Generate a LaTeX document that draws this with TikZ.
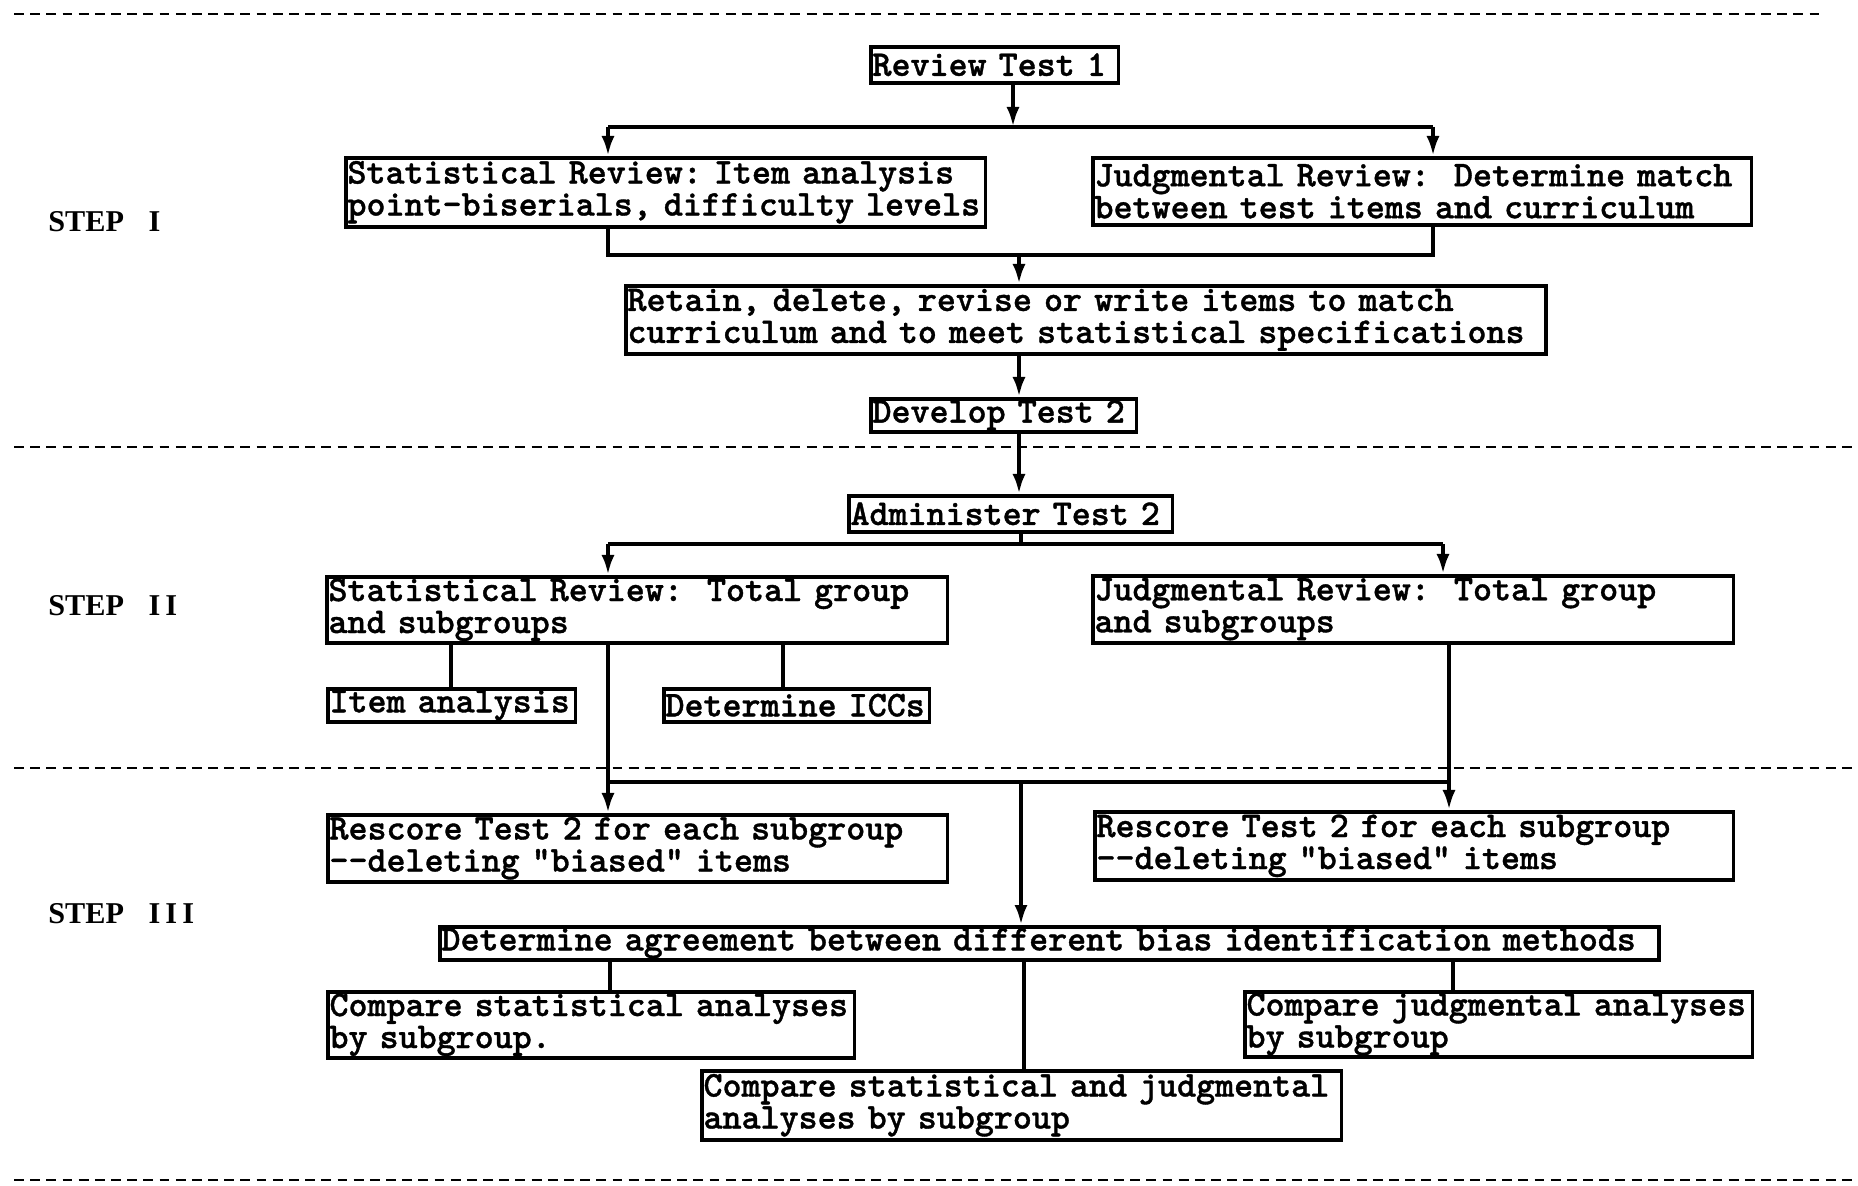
\documentclass[tikz,border=0pt]{standalone}
\usepackage{fontspec}
\usetikzlibrary{arrows.meta}
\newfontfamily\typer{lmmonolt10-bold}[Extension=.otf,FakeBold=1,Ligatures=TeXOff]
\newfontfamily\stamp{Liberation Serif}
\tikzset{
  >={Latex[length=2mm,width=1.3mm]},
  box/.style={draw,line width=1pt,anchor=north west,align=left,
    inner xsep=0.5pt,inner ysep=0pt,text width=#1,
    font=\typer\fontsize{10.3pt}{9.1pt}\selectfont\frenchspacing},
  flow/.style={->,line width=1.2pt},
  link/.style={line width=1.2pt},
  sep/.style={line width=0.7pt,dash pattern=on 2.8pt off 1.8pt},
  tag/.style={anchor=west,font=\stamp\bfseries\fontsize{8.6pt}{10pt}\selectfont},
}
\begin{document}
\begin{tikzpicture}[x=0.01cm,y=-0.01cm]
  \useasboundingbox (0,0) rectangle (1858,1185);
  % step separators and labels
  \draw[sep] (14,14) -- (1820,14);
  \foreach \y in {447,768,1180} \draw[sep] (14,\y) -- (1858,\y);
  \node[tag] (s1) at (36,222) {STEP\hspace{7pt}I};
  \node[tag] (s2) at (36,606) {STEP\hspace{7pt}I\,I};
  \node[tag] (s3) at (36,914) {STEP\hspace{7pt}I\,I\,I};
  % boxes
  \node[box=2.44cm,minimum height=0.36cm] (rt1) at (869,45) {Review Test 1};
  \node[box=6.36cm,minimum height=0.69cm] (sr1) at (344,156) {Statistical Review: Item analysis\\point-biserials, difficulty levels};
  \node[box=6.55cm,minimum height=0.67cm] (jr1) at (1091,156) {Judgmental Review:\ \ Determine match\\between test items and curriculum};
  \node[box=9.16cm,minimum height=0.68cm] (ret) at (624,284) {Retain, delete, revise or write items to match\\curriculum and to meet statistical specifications};
  \node[box=2.62cm,minimum height=0.33cm] (dev) at (869,397) {Develop Test 2};
  \node[box=3.20cm,minimum height=0.36cm] (adm) at (847,494) {Administer Test 2};
  \node[box=6.17cm,minimum height=0.66cm] (sr2) at (325,575) {Statistical Review:\ \ Total group\\and subgroups};
  \node[box=6.37cm,minimum height=0.67cm] (jr2) at (1091,574) {Judgmental Review:\ \ Total group\\and subgroups};
  \node[box=2.44cm,minimum height=0.33cm] (ia) at (326,687) {Item analysis};
  \node[box=2.62cm,minimum height=0.33cm] (icc) at (662,687) {Determine ICCs};
  \node[box=6.16cm,minimum height=0.67cm] (rsl) at (326,813) {Rescore Test 2 for each subgroup\\--deleting "biased" items};
  \node[box=6.35cm,minimum height=0.68cm] (rsr) at (1093,810) {Rescore Test 2 for each subgroup\\--deleting "biased" items};
  \node[box=12.15cm,minimum height=0.33cm] (agr) at (438,925) {Determine agreement between different bias identification methods};
  \node[box=5.23cm,minimum height=0.66cm] (cs) at (326,990) {Compare statistical analyses\\by subgroup.};
  \node[box=5.04cm,minimum height=0.65cm] (cj) at (1243,990) {Compare judgmental analyses\\by subgroup};
  \node[box=6.36cm,minimum height=0.69cm] (cb) at (700,1069) {Compare statistical and judgmental\\analyses by subgroup};
  % step I
  \coordinate (a1) at (1013,127);
  \coordinate (a1l) at (608,127);
  \coordinate (a1r) at (1433,127);
  \draw[flow] (rt1.south -| a1) -- (a1);
  \draw[link] (a1l) -- (a1r);
  \draw[flow] (a1l) -- (a1l |- sr1.north);
  \draw[flow] (a1r) -- (a1r |- jr1.north);
  \coordinate (m1) at (1019,255);
  \coordinate (m1l) at (608,255);
  \coordinate (m1r) at (1433,255);
  \draw[link] (sr1.south -| m1l) -- (m1l) -- (m1r) -- (jr1.south -| m1r);
  \draw[flow] (m1) -- (ret.north -| m1);
  \draw[flow] (ret.south -| m1) -- (dev.north -| m1);
  \draw[flow] (dev.south -| m1) -- (adm.north -| m1);
  % step II
  \coordinate (a2) at (1021,544);
  \coordinate (a2l) at (608,544);
  \coordinate (a2r) at (1443,544);
  \draw[link] (adm.south -| a2) -- (a2);
  \draw[link] (a2l) -- (a2r);
  \draw[flow] (a2l) -- (a2l |- sr2.north);
  \draw[flow] (a2r) -- (a2r |- jr2.north);
  \coordinate (t1) at (451,650);
  \coordinate (t2) at (783,650);
  \draw[link] (sr2.south -| t1) -- (ia.north -| t1);
  \draw[link] (sr2.south -| t2) -- (icc.north -| t2);
  % step III
  \coordinate (a3) at (1021,782);
  \coordinate (a3l) at (608,782);
  \coordinate (a3r) at (1449,782);
  \draw[flow] (sr2.south -| a3l) -- (rsl.north -| a3l);
  \draw[flow] (jr2.south -| a3r) -- (rsr.north -| a3r);
  \draw[link] (a3l) -- (a3r);
  \draw[flow] (a3) -- (agr.north -| a3);
  \coordinate (b1) at (610,970);
  \coordinate (b2) at (1024,970);
  \coordinate (b3) at (1453,970);
  \draw[link] (agr.south -| b1) -- (cs.north -| b1);
  \draw[link] (agr.south -| b2) -- (cb.north -| b2);
  \draw[link] (agr.south -| b3) -- (cj.north -| b3);
\end{tikzpicture}
\end{document}
